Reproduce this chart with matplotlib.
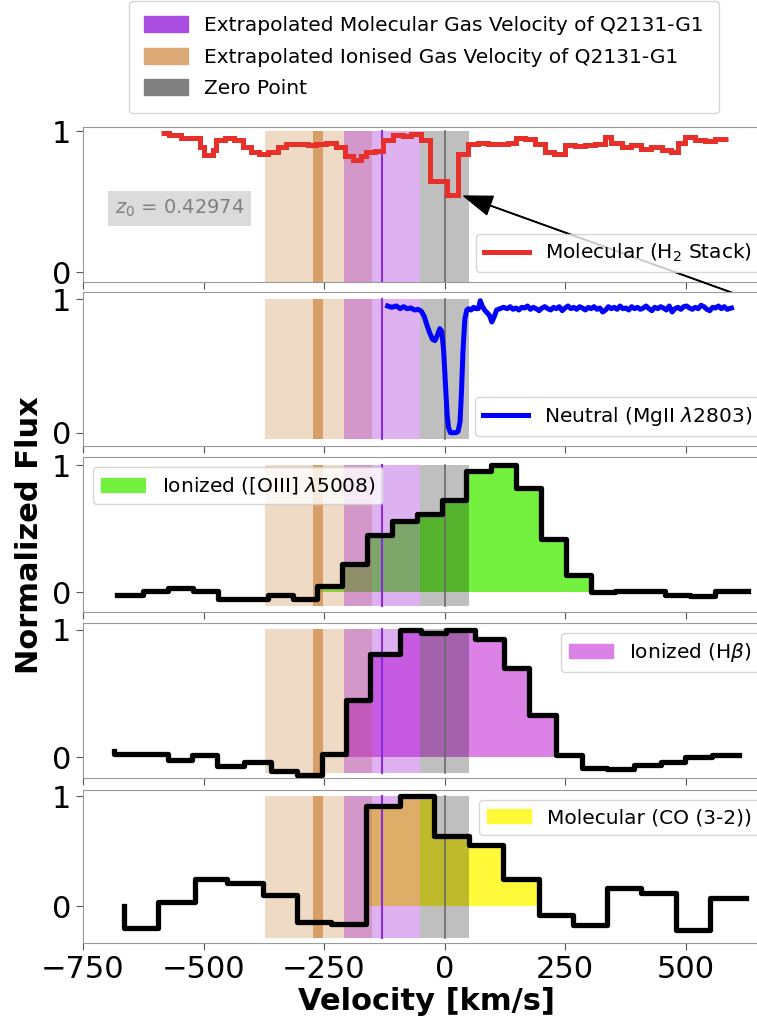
import numpy as np
import matplotlib.pyplot as plt
from matplotlib.patches import Patch
from matplotlib.lines import Line2D

# ---- spectra (velocity in km/s, normalised flux) ----
# H2 stack: bin edges and one value per bin
red_edges = [-588, -571, -546, -508, -498, -480, -474, -456, -436, -418, -401,
             -384, -366, -346, -328, -308, -283, -266, -246, -225, -207, -190,
             -173, -162, -145, -128, -107, -86, -69, -48, -31, -14, 4, 28, 48,
             69, 90, 111, 131, 149, 166, 187, 208, 228, 249, 270, 291, 311, 332,
             346, 367, 387, 408, 429, 450, 470, 484, 498, 519, 540, 560, 588]
red_flux = [0.99, 0.97, 0.95, 0.89, 0.83, 0.87, 0.935, 0.95, 0.935, 0.89,
            0.85, 0.84, 0.85, 0.886, 0.91, 0.906, 0.90, 0.91, 0.915, 0.886,
            0.826, 0.795, 0.826, 0.85, 0.862, 0.935, 0.971, 0.964, 0.978, 0.935,
            0.645, 0.645, 0.55, 0.838, 0.911, 0.92, 0.906, 0.911, 0.92, 0.953,
            0.947, 0.911, 0.85, 0.838, 0.899, 0.893, 0.899, 0.911, 0.96, 0.92,
            0.89, 0.899, 0.874, 0.886, 0.868, 0.85, 0.92, 0.96, 0.935, 0.93,
            0.947]

# MgII 2803
blue_v = [-118, -110, -100, -92, -85, -78, -70, -62, -55, -48, -42, -36, -30,
          -25, -20, -15, -10, -6, -2, 2, 5, 8, 12, 16, 20, 24, 28, 32, 35, 38,
          42, 46, 50, 55, 60, 65, 70, 74, 78, 83, 88, 93, 98, 103, 108, 115,
          122, 130, 136, 142, 148, 154, 160, 166, 172, 178, 184, 190, 196, 202,
          208, 214, 220, 226, 232, 238, 244, 250, 256, 262, 268, 274, 280, 286,
          292, 298, 304, 310, 316, 322, 328, 334, 340, 346, 352, 358, 364, 370,
          376, 382, 388, 394, 400, 406, 412, 418, 424, 430, 436, 442, 448, 454,
          460, 466, 472, 478, 484, 490, 496, 502, 508, 514, 520, 526, 532, 538,
          544, 550, 556, 562, 568, 574, 580, 586, 595]
blue_f = [0.95, 0.94, 0.95, 0.93, 0.945, 0.93, 0.935, 0.92, 0.925, 0.91, 0.87,
          0.80, 0.74, 0.70, 0.69, 0.73, 0.78, 0.76, 0.62, 0.35, 0.15, 0.04,
          0.0, 0.0, 0.0, 0.0, 0.01, 0.08, 0.30, 0.60, 0.85, 0.92, 0.93, 0.92,
          0.94, 0.93, 0.93, 0.99, 0.95, 0.92, 0.90, 0.88, 0.83, 0.87, 0.92,
          0.93, 0.94, 0.93, 0.945, 0.925, 0.935, 0.92, 0.94, 0.935, 0.95,
          0.925, 0.94, 0.93, 0.915, 0.935, 0.945, 0.93, 0.92, 0.94, 0.93,
          0.945, 0.915, 0.935, 0.95, 0.93, 0.94, 0.925, 0.945, 0.935, 0.92,
          0.94, 0.93, 0.945, 0.925, 0.935, 0.905, 0.92, 0.945, 0.93, 0.94,
          0.925, 0.95, 0.93, 0.935, 0.92, 0.945, 0.93, 0.94, 0.925, 0.935,
          0.95, 0.93, 0.915, 0.94, 0.93, 0.945, 0.935, 0.92, 0.95, 0.905,
          0.93, 0.94, 0.925, 0.945, 0.95, 0.935, 0.925, 0.94, 0.93, 0.955,
          0.945, 0.925, 0.915, 0.94, 0.935, 0.95, 0.93, 0.945, 0.925, 0.935]

# [OIII] 5008, step 'pre' (first value is the start point)
oiii_v = [-680, -625, -573, -521, -470, -418, -367, -315, -264, -212, -161,
          -109, -58, -6, 45, 97, 148, 200, 251, 303, 354, 406, 457, 509, 560, 630]
oiii_f = [-0.02, -0.02, 0.014, 0.034, 0.008, -0.05, -0.055, -0.02, -0.056,
          0.05, 0.22, 0.45, 0.56, 0.615, 0.73, 0.955, 1.0, 0.82, 0.42, 0.14,
          0.0, 0.014, 0.014, -0.02, -0.028, 0.014]

# H-beta
hb_v = [-685, -630, -574, -523, -473, -417, -361, -306, -255, -204, -154, -93,
        -48, 3, 64, 124, 175, 231, 286, 337, 393, 448, 499, 555, 610]
hb_f = [0.045, 0.027, 0.022, -0.022, 0.014, -0.068, -0.041, -0.11, -0.137,
        0.027, 0.45, 0.81, 1.0, 0.973, 1.0, 0.926, 0.70, 0.33, 0.014, -0.082,
        -0.096, -0.06, -0.041, 0.005, 0.014]

# CO (3-2)
co_v = [-665, -594, -518, -452, -377, -306, -235, -164, -93, -22, 51, 121, 195,
        266, 337, 408, 479, 550, 625]
co_f = [0.0, -0.2, 0.04, 0.248, 0.207, 0.10, -0.14, -0.165, 0.913, 1.0, 0.635,
        0.557, 0.248, -0.084, -0.17, 0.164, 0.124, -0.217, 0.077]

# velocity windows used for the shaded emission
oiii_window = (-265, 305)
hb_window = (-256, 290)
co_window = (-165, 200)

# reference velocities
ion_v, ion_err = -262, 111
mol_v, mol_err = -130, 79
zero_err = 50
z0 = 0.42974

# ---- layout ----
W, H = 757, 1025
left_px, right_px = 83, 770
panel_px = [(127, 282), (292, 446), (457, 612), (623, 778), (790, 943)]
ylims = [(-0.07, 1.03), (-0.1, 1.055), (-0.155, 1.065), (-0.164, 1.055),
         (-0.335, 1.057)]
band_y = [(-0.07, 1.0), (-0.05, 1.0), (-0.107, 1.0), (-0.125, 1.01),
          (-0.29, 1.0)]

fig = plt.figure(figsize=(W / 100, H / 100), dpi=100)
axes = []
for t, b in panel_px:
    ax = fig.add_axes([left_px / W, 1 - b / H, (right_px - left_px) / W, (b - t) / H],
                      sharex=axes[0] if axes else None)
    axes.append(ax)


def draw_bands(ax, y0, y1):
    ax.fill_between([ion_v - ion_err, ion_v + ion_err], y0, y1, color='peru',
                    alpha=0.3, lw=0, zorder=2)
    ax.fill_between([ion_v - 10, ion_v + 10], y0, y1, color='peru',
                    alpha=0.7, lw=0, zorder=2)
    ax.fill_between([mol_v - mol_err, mol_v + mol_err], y0, y1,
                    color='darkviolet', alpha=0.3, lw=0, zorder=2)
    ax.plot([mol_v, mol_v], [y0, y1], color='blueviolet', lw=1.5, zorder=2.5)
    ax.fill_between([-zero_err, zero_err], y0, y1, color='black', alpha=0.25,
                    lw=0, zorder=2)
    ax.plot([0, 0], [y0, y1], color='dimgray', lw=1.2, zorder=2.5)


def step_panel(ax, v, f, window, color):
    v = np.array(v)
    f = np.array(f)
    bins = f[1:]
    mask = (v[:-1] >= window[0]) & (v[1:] <= window[1]) & (bins > 0)
    ax.stairs(np.where(mask, bins, 0), v, baseline=0, fill=True, color=color,
              lw=0, zorder=1)
    ax.step(v, f, where='pre', color='black', lw=3.8, zorder=4)


leg_kw = dict(fontsize=14.5, handlelength=2.2)

# panel 1: H2
ax = axes[0]
draw_bands(ax, *band_y[0])
ax.stairs(red_flux, red_edges, baseline=None, color='#e8302a', lw=3.6, zorder=4)
ax.legend(handles=[Line2D([], [], color='#e8302a', lw=3.6)],
          labels=['Molecular (H$_2$ Stack)'], loc='lower right', **leg_kw)
ax.text(-550, 0.45, r'$z_0$ = %.5f' % z0, color='gray', fontsize=14,
        ha='center', va='center',
        bbox=dict(facecolor='lightgray', edgecolor='none', alpha=0.8,
                  boxstyle='square,pad=0.35'))
ax.annotate('', xy=(40, 0.54), xytext=(905, H - 355), textcoords='figure pixels',
            arrowprops=dict(facecolor='black', edgecolor='black', width=0.4,
                            headwidth=14, headlength=20, shrink=0),
            annotation_clip=False)

# panel 2: MgII
ax = axes[1]
draw_bands(ax, *band_y[1])
ax.plot(blue_v, blue_f, color='blue', lw=3.6, zorder=4)
ax.legend(handles=[Line2D([], [], color='blue', lw=3.6)],
          labels=[r'Neutral (MgII $\lambda$2803)'], loc='lower right', **leg_kw)

# panel 3: OIII
ax = axes[2]
step_panel(ax, oiii_v, oiii_f, oiii_window, '#74f03e')
draw_bands(ax, *band_y[2])
ax.legend(handles=[Patch(color='#74f03e')],
          labels=[r'Ionized ([OIII] $\lambda$5008)'], loc='upper left', **leg_kw)

# panel 4: Hbeta
ax = axes[3]
step_panel(ax, hb_v, hb_f, hb_window, '#dc82e6')
draw_bands(ax, *band_y[3])
ax.legend(handles=[Patch(color='#dc82e6')],
          labels=[r'Ionized (H$\beta$)'], loc='upper right', **leg_kw)

# panel 5: CO
ax = axes[4]
step_panel(ax, co_v, co_f, co_window, '#fff93a')
draw_bands(ax, *band_y[4])
ax.legend(handles=[Patch(color='#fff93a')],
          labels=['Molecular (CO (3-2))'], loc='upper right', **leg_kw)

for ax, yl in zip(axes, ylims):
    ax.set_ylim(*yl)
    ax.set_yticks([0, 1])
    ax.set_xticks([-750, -500, -250, 0, 250, 500])
    ax.tick_params(labelsize=22, length=5, color='#555555')
    for sp in ax.spines.values():
        sp.set_color('#999999')
    if ax is not axes[-1]:
        ax.tick_params(labelbottom=False)
axes[0].set_xlim(-750, 675)

# top legend for the shaded regions
top = [Patch(color='#a94ee0'), Patch(color='#dca876'), Patch(color='#808080')]
top_labels = ['Extrapolated Molecular Gas Velocity of Q2131-G1',
              'Extrapolated Ionised Gas Velocity of Q2131-G1',
              'Zero Point']
fig.legend(top, top_labels, loc='upper center',
           bbox_to_anchor=(424 / W, 1 - 1 / H), fontsize=14.5,
           handlelength=2.2, handleheight=0.85, labelspacing=0.62,
           borderpad=0.75, borderaxespad=0)

axes[-1].set_xlabel('Velocity [km/s]', fontsize=22, fontweight='bold',
                    labelpad=2)
fig.text(30 / W, 1 - 535 / H, 'Normalized Flux', rotation=90, fontsize=22,
         fontweight='bold', ha='center', va='center')

fig.savefig('out.png', dpi=100)
